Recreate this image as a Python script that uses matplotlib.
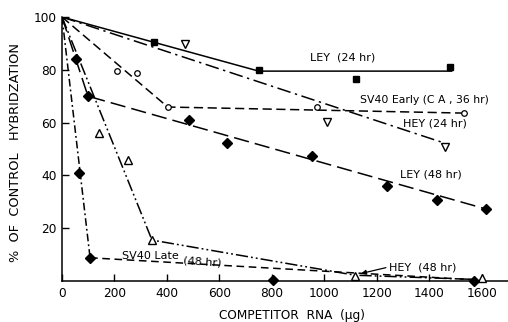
import matplotlib
matplotlib.use("Agg")
import matplotlib.pyplot as plt

plt.rcParams['font.family'] = ['DejaVu Sans']

# ---- data ----
x_ticks = [0, 200, 400, 600, 800, 1000, 1200, 1400, 1600]
y_ticks = [20, 40, 60, 80, 100]

# LEY (24 hr)
ley24_x = [350, 750, 1120, 1480]
ley24_y = [90.5, 80, 76.5, 81]
ley24_lx = [0, 750, 1485]
ley24_ly = [100, 79.5, 79.5]

# HEY (24 hr)
hey24_x = [470, 1010, 1460]
hey24_y = [89.8, 60.2, 50.8]
hey24_lx = [0, 1450]
hey24_ly = [100, 52.5]

# SV40 Early (CA, 36 hr)
sv40e_x = [210, 285, 403, 971, 1531]
sv40e_y = [79.5, 78.8, 65.9, 65.9, 63.6]
sv40e_lx = [0, 403, 1531]
sv40e_ly = [100, 65.9, 63.6]

# LEY (48 hr)
ley48_x = [53, 99, 484, 628, 952, 1238, 1428, 1615]
ley48_y = [84, 70, 61, 52.3, 47.3, 36, 30.7, 27.3]
ley48_lx = [0, 99, 1615]
ley48_ly = [100, 70, 27.3]

# HEY (48 hr)
hey48_x = [141, 251, 343, 1116, 1600]
hey48_y = [56, 46, 15.5, 1.9, 1.0]
hey48_lx = [0, 343, 1116, 1600]
hey48_ly = [100, 15.5, 2.2, 0.5]

# SV40 Late (48 hr)
sv40l_x = [66, 107, 805, 1570]
sv40l_y = [40.8, 8.8, 0.4, 0.0]
sv40l_lx1 = [0, 107]
sv40l_ly1 = [100, 8.8]
sv40l_lx2 = [107, 1600]
sv40l_ly2 = [8.8, 0.3]

fig = plt.figure(figsize=(5.08, 3.22), dpi=100)
ax = fig.add_axes([62/508, 41/322, 446/508, 264/322])
ax.set_xlim(0, 1700)
ax.set_ylim(0, 100)

k = 'black'
lw = 1.1
# lines
ax.plot(ley24_lx, ley24_ly, color=k, lw=lw, ls='-')
ax.plot(hey24_lx, hey24_ly, color=k, lw=lw, ls=(0, (9, 3, 1.5, 3)))
ax.plot(sv40e_lx, sv40e_ly, color=k, lw=lw, ls=(0, (6, 3)))
ax.plot(ley48_lx, ley48_ly, color=k, lw=lw, ls=(0, (10, 4)))
ax.plot(hey48_lx, hey48_ly, color=k, lw=lw, ls=(0, (8, 2, 1.2, 2, 1.2, 2)))
ax.plot(sv40l_lx1, sv40l_ly1, color=k, lw=lw, ls=(0, (5, 2, 1.2, 2)))
ax.plot(sv40l_lx2, sv40l_ly2, color=k, lw=lw, ls=(0, (5, 3)))

# markers
mk = dict(ls='none', color=k, clip_on=False, zorder=5)
ax.plot(ley24_x, ley24_y, marker='s', ms=4.5, **mk)
ax.plot(hey24_x, hey24_y, marker='v', ms=6, mfc='white', mew=1.0, **mk)
ax.plot(sv40e_x, sv40e_y, marker='o', ms=4, mfc='white', mew=0.9, **mk)
ax.plot(ley48_x, ley48_y, marker='D', ms=5.5, **mk)
ax.plot(hey48_x, hey48_y, marker='^', ms=6, mfc='white', mew=1.0, **mk)
ax.plot(sv40l_x, sv40l_y, marker='D', ms=5.5, **mk)

fs = 8
ax.text(1070, 84.5, 'LEY  (24 hr)', fontsize=fs, ha='center', va='center')
ax.text(1383, 68.6, 'SV40 Early (C A , 36 hr)', fontsize=7.8, ha='center', va='center')
ax.text(1421, 59.5, 'HEY (24 hr)', fontsize=fs, ha='center', va='center')
ax.text(1406, 40.2, 'LEY (48 hr)', fontsize=fs, ha='center', va='center')
ax.text(1245, 5.3, 'HEY  (48 hr)', fontsize=fs, ha='left', va='center')
ax.annotate('', xy=(1130, 2.6), xytext=(1245, 5.3),
            arrowprops=dict(arrowstyle='-|>', color=k, lw=0.9, mutation_scale=7))
ax.text(335, 9.4, 'SV40 Late', fontsize=fs, ha='center', va='center')
ax.text(535, 7.3, '(48 hr)', fontsize=fs, ha='center', va='center', rotation=-4)

ax.spines['top'].set_visible(False)
ax.spines['right'].set_visible(False)
for s in ('left', 'bottom'):
    ax.spines[s].set_linewidth(1.1)
ax.set_xticks(x_ticks)
ax.set_yticks(y_ticks)
tfs = 8.7
ax.tick_params(axis='x', direction='in', length=5, width=1, labelsize=tfs, pad=4)
ax.tick_params(axis='y', direction='in', length=5, width=1, labelsize=tfs, pad=4)

fig.text(292/508, 1 - 315/322, 'COMPETITOR  RNA  (\u03bcg)', fontsize=8.7, ha='center', va='center')
fig.text(16/508, 1 - 152/322, '%  OF  CONTROL   HYBRIDZATION', fontsize=9.3, ha='center', va='center', rotation=90)

fig.savefig('out.png', dpi=100)
